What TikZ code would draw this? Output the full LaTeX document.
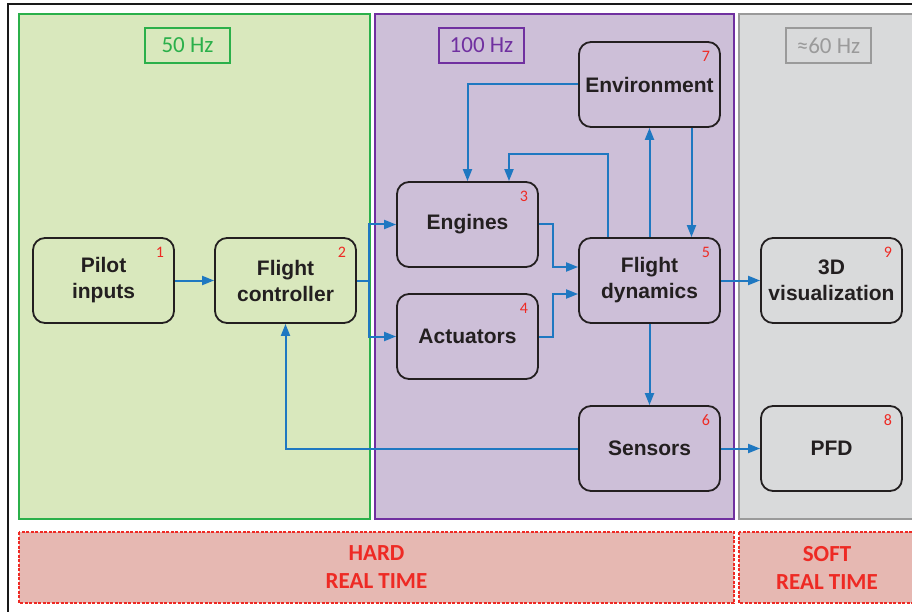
\documentclass[tikz,border=0pt]{standalone}
\usepackage{fontspec}
\setmainfont{Liberation Sans}
\newfontfamily\hzfont{Carlito}
\usetikzlibrary{arrows.meta,calc}
\definecolor{gfill}{HTML}{D9E8BD}
\definecolor{gline}{HTML}{2BB04A}
\definecolor{pfill}{HTML}{CDBFD8}
\definecolor{pline}{HTML}{7030A0}
\definecolor{yfill}{HTML}{D9DADB}
\definecolor{yline}{HTML}{9A9A9A}
\definecolor{bfill}{HTML}{E6B8B2}
\definecolor{bred}{HTML}{EE2A24}
\definecolor{ablue}{HTML}{1F78C1}
\definecolor{ink}{HTML}{231F20}
\tikzset{
  blk/.style={draw=ink, line width=1.8pt, rounded corners=12pt, minimum width=141pt, minimum height=85pt,
    align=center, inner sep=0pt, text=ink, font=\bfseries\fontsize{21}{26}\selectfont},
  num/.style={text=bred, inner sep=0pt, font=\hzfont\fontsize{16}{16}\selectfont},
  hz/.style={draw, line width=1.8pt, minimum width=85pt, minimum height=35pt, inner sep=0pt, font=\hzfont\fontsize{23}{23}\selectfont},
  band/.style={draw=bred, fill=bfill, line width=1.5pt, dash pattern=on 3pt off 1.5pt},
  bandtext/.style={text=bred, align=center, font=\hzfont\bfseries\fontsize{23}{28}\selectfont},
  conn/.style={draw=ablue, line width=2pt, -{Triangle[length=12pt,width=9pt]}},
  plain/.style={draw=ablue, line width=2pt}
}
\begin{document}
\begin{tikzpicture}[x=1pt,y=-1pt]
\useasboundingbox (0,0) rectangle (912,612);
\clip (0,0) rectangle (912,612);
\fill[white] (0,0) rectangle (912,612);
\draw[line width=2.2pt, black!90] (8,640) -- (8,4) -- (940,4);
% panels
\draw[fill=gfill, draw=gline, line width=1.8pt] (19,14) rectangle (370,519);
\draw[fill=pfill, draw=pline, line width=1.8pt] (375,14) rectangle (734,519);
\draw[fill=yfill, draw=yline, line width=1.8pt] (739,14) rectangle (930,519);
% Hz labels
\node[hz, draw=gline, text=gline] (hz50) at (187.5,45.5) {50 Hz};
\node[hz, draw=pline, text=pline] (hz100) at (481.5,45.5) {100 Hz};
\node[hz, draw=yline, text=yline] (hz60) at (828.5,45.5) {≈60 Hz};
% bands
\draw[band] (19,532) rectangle (734,603);
\draw[band] (739,532) rectangle (930,603);
\node[bandtext] (hard) at (376.5,567.5) {HARD\\REAL TIME};
\node[bandtext] (soft) at (827,567.5) {SOFT\\REAL TIME};
% blocks
\node[blk] (pilot) at (103.5,280.5) {Pilot\\inputs};
\node[blk] (fc) at (285.5,280.5) {Flight\\controller};
\node[blk] (eng) at (467.5,224.5) {Engines};
\node[blk] (act) at (467.5,336.5) {Actuators};
\node[blk] (fd) at (649.5,280.5) {Flight\\dynamics};
\node[blk] (env) at (649.5,84.5) {Environment};
\node[blk] (sen) at (649.5,448.5) {Sensors};
\node[blk] (vis) at (831.5,280.5) {3D\\visualization};
\node[blk] (pfd) at (831.5,448.5) {PFD};
% numbers
\node[num] (n1) at ([xshift=-15pt,yshift=-15pt]pilot.north east) {1};
\node[num] (n2) at ([xshift=-15pt,yshift=-15pt]fc.north east) {2};
\node[num] (n3) at ([xshift=-15pt,yshift=-15pt]eng.north east) {3};
\node[num] (n4) at ([xshift=-15pt,yshift=-15pt]act.north east) {4};
\node[num] (n5) at ([xshift=-15pt,yshift=-15pt]fd.north east) {5};
\node[num] (n6) at ([xshift=-15pt,yshift=-15pt]sen.north east) {6};
\node[num] (n7) at ([xshift=-15pt,yshift=-15pt]env.north east) {7};
\node[num] (n8) at ([xshift=-15pt,yshift=-15pt]pfd.north east) {8};
\node[num] (n9) at ([xshift=-15pt,yshift=-15pt]vis.north east) {9};
% connectors
\draw[conn] (pilot) -- (fc);
\coordinate (split) at (369,280.5);
\draw[plain] (fc.east) -- (split);
\draw[conn] (split) |- (eng.west);
\draw[conn] (split) |- (act.west);
\draw[conn] (eng.east) -- ++(14,0) |- ([yshift=13.5pt]fd.west);
\draw[conn] (act.east) -- ++(14,0) |- ([yshift=-13.5pt]fd.west);
\draw[conn] (env.west) -| (eng.north);
\draw[conn] ([xshift=-41.5pt]fd.north) -- ++(0,-83) -| ([xshift=41.5pt]eng.north);
\draw[conn] (fd.north) -- (env.south);
\draw[conn] ([xshift=42pt]env.south) -- ([xshift=42pt]fd.north);
\draw[conn] (fd.east) -- (vis.west);
\draw[conn] (fd.south) -- (sen.north);
\draw[conn] (sen.east) -- (pfd.west);
\draw[conn] (sen.west) -| (fc.south);
\end{tikzpicture}
\end{document}
